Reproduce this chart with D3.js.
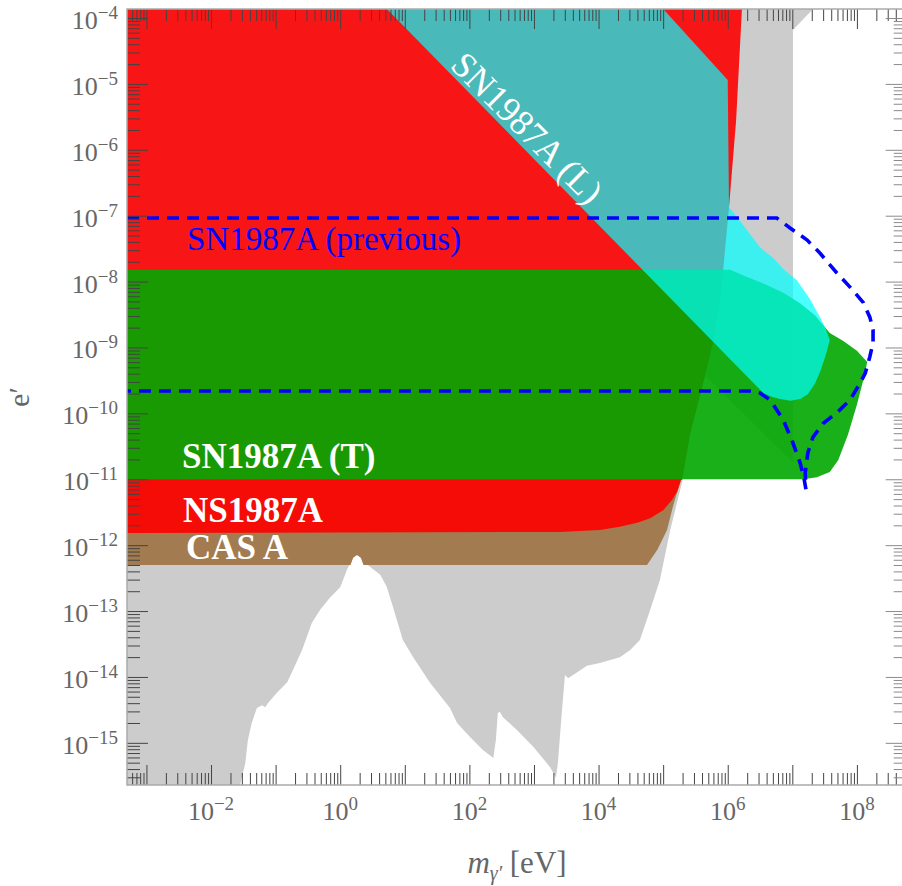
<!DOCTYPE html>
<html><head><meta charset="utf-8">
<script src="https://cdn.jsdelivr.net/npm/d3@7"></script>
<style>
html,body{margin:0;padding:0;background:#fff;}
svg{display:block;}
</style></head><body>
<svg id="chart" width="902" height="886"></svg>
<script>
// All region vertices are [log10(m_gamma' / eV), log10(e')]
const xDomainLog = [-3.301, 8.740];
const yDomainLog = [-15.64, -3.863];

const xMajorExps = d3.range(-3, 9);          // decades on the mass axis
const xLabelExps = [-2, 0, 2, 4, 6, 8];      // labelled decades
const yMajorExps = d3.range(-15, -3);        // decades on the coupling axis
const yLabelExps = [-4, -5, -6, -7, -8, -9, -10, -11, -12, -13, -14, -15];

// other (laboratory / cosmological) constraints
const grayRegion = [
  [-3.5,-15.64],[-1.55,-15.64],[-1.47,-15.31],[-1.43,-14.96],[-1.37,-14.70],[-1.29,-14.47],
  [-1.21,-14.43],[-1.16,-14.46],[-1.12,-14.40],[-0.98,-14.24],[-0.82,-14.08],[-0.73,-13.89],
  [-0.59,-13.59],[-0.44,-13.18],[-0.31,-12.98],[-0.16,-12.80],[0.00,-12.64],[0.11,-12.36],
  [0.20,-12.19],[0.26,-12.15],[0.32,-12.19],[0.41,-12.29],[0.62,-12.45],[0.72,-12.63],[0.80,-12.88],[0.97,-13.44],
  [1.13,-13.70],[1.39,-14.09],[1.70,-14.47],[1.81,-14.70],[2.01,-14.91],[2.21,-15.11],
  [2.37,-15.23],[2.41,-14.96],[2.44,-14.55],[2.47,-14.53],[2.52,-14.61],[2.74,-14.81],
  [2.99,-15.06],[3.25,-15.37],[3.34,-15.53],[3.37,-15.31],[3.43,-14.55],[3.48,-13.97],
  [3.53,-14.02],[3.67,-13.93],[3.82,-13.83],[4.02,-13.79],[4.33,-13.70],[4.49,-13.59],
  [4.64,-13.44],[4.80,-12.98],[4.95,-12.53],[5.11,-11.77],[5.31,-10.98],[5.42,-10.30],
  [5.62,-9.54],[5.65,-9.43],[7.01,-10.75],[7.01,-4.18],[7.32,-3.863],[-3.5,-3.863]
];
// upper red region
const redUpper = [
  [-3.5,-3.7],[6.23,-3.7],[6.22,-3.86],[6.13,-5.55],[6.02,-6.87],[5.93,-7.82],[5.88,-8.28],
  [5.77,-8.93],[5.62,-9.54],[5.42,-10.30],[5.29,-11.01],[-3.5,-11.01]
];
// NS1987A
const ns1987a = [
  [-3.5,-11.0],[5.28,-11.0],[5.22,-11.18],[5.14,-11.31],[5.00,-11.47],[4.80,-11.59],
  [4.60,-11.66],[4.33,-11.72],[4.02,-11.77],[3.40,-11.80],[-3.5,-11.815]
];
// CAS A (bottom edge notched where the lower gray boundary peaks)
const casA = [
  [-3.5,-11.0],[5.28,-11.0],[5.20,-11.25],[5.15,-11.42],[5.06,-11.77],[4.91,-12.07],
  [4.75,-12.30],[0.36,-12.30],[0.32,-12.19],[0.26,-12.15],[0.20,-12.19],[0.16,-12.30],[-3.5,-12.30]
];
// SN1987A (T)
const sn1987aT = [
  [-3.5,-7.82],[6.04,-7.82],[6.27,-7.92],[6.58,-8.04],[6.86,-8.17],[7.12,-8.33],[7.35,-8.51],
  [7.58,-8.78],[7.79,-8.90],[8.00,-9.05],[8.16,-9.22],[8.10,-9.49],[8.00,-9.87],[7.86,-10.33],
  [7.71,-10.71],[7.58,-10.89],[7.38,-10.97],[7.17,-11.00],[-3.5,-11.00]
];
// SN1987A (L)
const sn1987aL = [
  [0.56,-3.70],[6.55,-9.69],[6.69,-9.75],[6.81,-9.78],[6.97,-9.81],[7.12,-9.78],[7.24,-9.71],
  [7.35,-9.55],[7.43,-9.37],[7.51,-9.14],[7.58,-8.89],[7.51,-8.70],[7.43,-8.54],[7.27,-8.26],
  [7.07,-7.98],[6.86,-7.81],[6.70,-7.64],[6.50,-7.48],[6.19,-7.08],[6.02,-6.87],[6.00,-4.94],
  [4.85,-3.70]
];
// SN1987A (previous) contour
const snPrevious = [
  [-3.301,-7.035],[6.76,-7.035],[6.97,-7.19],[7.23,-7.37],[7.43,-7.57],[7.69,-7.87],[7.89,-8.08],
  [8.10,-8.32],[8.20,-8.54],[8.25,-8.73],[8.25,-8.93],[8.20,-9.14],[8.13,-9.39],[8.05,-9.54],
  [7.89,-9.80],[7.69,-9.99],[7.48,-10.15],[7.32,-10.36],[7.24,-10.60],[7.20,-10.90],[7.21,-11.15],
  [7.18,-10.98],[7.12,-10.75],[7.01,-10.45],[6.86,-10.10],[6.66,-9.80],[6.50,-9.69],[6.38,-9.66],
  [-3.301,-9.66]
];

const FONT = "'Liberation Serif', 'Times New Roman', Times, serif";
const W = 902, H = 886;
const plot = {left: 127, right: 904.7, top: 9, bottom: 785};
const x = d3.scaleLog().domain(xDomainLog.map(v => 10 ** v)).range([plot.left, plot.right]);
const y = d3.scaleLog().domain(yDomainLog.map(v => 10 ** v)).range([plot.bottom, plot.top]);
const line = d3.line().x(d => x(10 ** d[0])).y(d => y(10 ** d[1]));

const svg = d3.select("#chart").attr("font-family", FONT);
svg.append("rect").attr("width", W).attr("height", H).attr("fill", "#fff");
svg.append("defs").append("clipPath").attr("id", "clip")
  .append("rect").attr("x", plot.left).attr("y", plot.top)
  .attr("width", plot.right - plot.left).attr("height", plot.bottom - plot.top);

const g = svg.append("g").attr("clip-path", "url(#clip)");
g.append("path").attr("d", line(grayRegion) + "Z").attr("fill", "#cccccc");
g.append("path").attr("d", line(casA) + "Z").attr("fill", "#a37b50");
g.append("path").attr("d", line(redUpper) + "Z").attr("fill", "#f81515");
g.append("path").attr("d", line(ns1987a) + "Z").attr("fill", "#f60c06");
g.append("path").attr("d", line(sn1987aT) + "Z").attr("fill", "rgb(0,167,0)").attr("fill-opacity", 0.9);
g.append("path").attr("d", line(sn1987aL) + "Z").attr("fill", "rgb(0,255,255)").attr("fill-opacity", 0.7);
g.append("path").attr("d", line(snPrevious)).attr("fill", "none").attr("stroke", "#0000ff")
  .attr("stroke-width", 3.6).attr("stroke-dasharray", "12,8");

// ticks
const xMinor = [], yMinor = [];
xMajorExps.concat([-4]).forEach(e => { for (let k = 2; k <= 9; k++) xMinor.push(k * 10 ** e); });
yMajorExps.concat([-16]).forEach(e => { for (let k = 2; k <= 9; k++) yMinor.push(k * 10 ** e); });
const xMinorIn = xMinor.filter(v => v >= 10 ** xDomainLog[0] && v <= 10 ** xDomainLog[1]);
const yMinorIn = yMinor.filter(v => v >= 10 ** yDomainLog[0] && v <= 10 ** yDomainLog[1]);
const xMaj = xMajorExps.map(e => 10 ** e), yMaj = yMajorExps.map(e => 10 ** e);

function addAxis(gen, transform, vals, size, color) {
  const a = svg.append("g").attr("transform", transform)
    .call(gen.tickValues(vals).tickSizeInner(-size).tickSizeOuter(0).tickFormat(""));
  a.select(".domain").remove();
  a.selectAll("line").attr("stroke", color).attr("stroke-width", 1);
}
const tickCol = "#444", tickColR = "#8a8a8a";
addAxis(d3.axisBottom(x), `translate(0,${plot.bottom})`, xMaj, 20, tickCol);
addAxis(d3.axisBottom(x), `translate(0,${plot.bottom})`, xMinorIn, 12, tickCol);
addAxis(d3.axisTop(x), `translate(0,${plot.top})`, xMaj, 20, tickCol);
addAxis(d3.axisTop(x), `translate(0,${plot.top})`, xMinorIn, 12, tickCol);
addAxis(d3.axisLeft(y), `translate(${plot.left},0)`, yMaj, 21, tickCol);
addAxis(d3.axisLeft(y), `translate(${plot.left},0)`, yMinorIn, 13, tickCol);
addAxis(d3.axisRight(y), `translate(${plot.right},0)`, yMaj, 19, tickColR);
addAxis(d3.axisRight(y), `translate(${plot.right},0)`, yMinorIn, 11, tickColR);

// frame
svg.append("rect").attr("x", plot.left).attr("y", plot.top)
  .attr("width", plot.right - plot.left).attr("height", plot.bottom - plot.top)
  .attr("fill", "none").attr("stroke", "#aaaaaa").attr("stroke-width", 1.5);

// tick labels
const supStr = e => (e < 0 ? "\u2212" + Math.abs(e) : String(e));
const labCol = "#666";
xLabelExps.forEach(e => {
  const t = svg.append("text").attr("x", x(10 ** e)).attr("y", 820).attr("font-family", FONT)
    .attr("text-anchor", "middle").attr("fill", labCol).attr("font-size", 26);
  t.append("tspan").text("10");
  t.append("tspan").attr("font-size", 19).attr("dy", -10).text(supStr(e));
});
yLabelExps.forEach(e => {
  const t = svg.append("text").attr("x", 118).attr("y", y(10 ** e) + 11).attr("font-family", FONT)
    .attr("text-anchor", "end").attr("fill", labCol).attr("font-size", 26);
  t.append("tspan").text("10");
  t.append("tspan").attr("font-size", 19).attr("dy", -10).text(supStr(e));
});

// axis titles
svg.append("text").attr("transform", `translate(29,${(plot.top + plot.bottom) / 2}) rotate(-90)`)
  .attr("text-anchor", "middle").attr("fill", labCol).attr("font-size", 30).attr("font-family", FONT)
  .text("e\u2032");
const xt = svg.append("text").attr("x", 517).attr("y", 873).attr("text-anchor", "middle")
  .attr("fill", labCol).attr("font-size", 31).attr("font-family", FONT);
xt.append("tspan").attr("font-style", "italic").text("m");
xt.append("tspan").attr("font-style", "italic").attr("font-size", 20).attr("dy", 7).text("\u03b3\u2032");
xt.append("tspan").attr("dy", -7).text(" [eV]");

// region labels
const lab = (lx, ly, txt, opts) => {
  const t = svg.append("text").attr("x", x(10 ** lx)).attr("y", y(10 ** ly))
    .attr("font-family", FONT).text(txt);
  Object.entries(opts).forEach(([k, v]) => t.attr(k, v));
  return t;
};
lab(-2.372, -7.52, "SN1987A (previous)", {fill: "#0000ff", "font-size": 33});
lab(-2.45, -10.83, "SN1987A (T)", {fill: "#fff", "font-size": 35, "font-weight": "bold"});
lab(-2.435, -11.648, "NS1987A", {fill: "#fff", "font-size": 35, "font-weight": "bold"});
lab(-2.388, -12.21, "CAS A", {fill: "#fff", "font-size": 35, "font-weight": "bold"});
const lx = x(10 ** 2.761), ly = y(10 ** -5.798);
svg.append("text").attr("transform", `translate(${lx},${ly}) rotate(45)`).attr("font-family", FONT)
  .attr("text-anchor", "middle").attr("fill", "#fff").attr("font-size", 36).text("SN1987A (L)");
</script>
</body></html>
